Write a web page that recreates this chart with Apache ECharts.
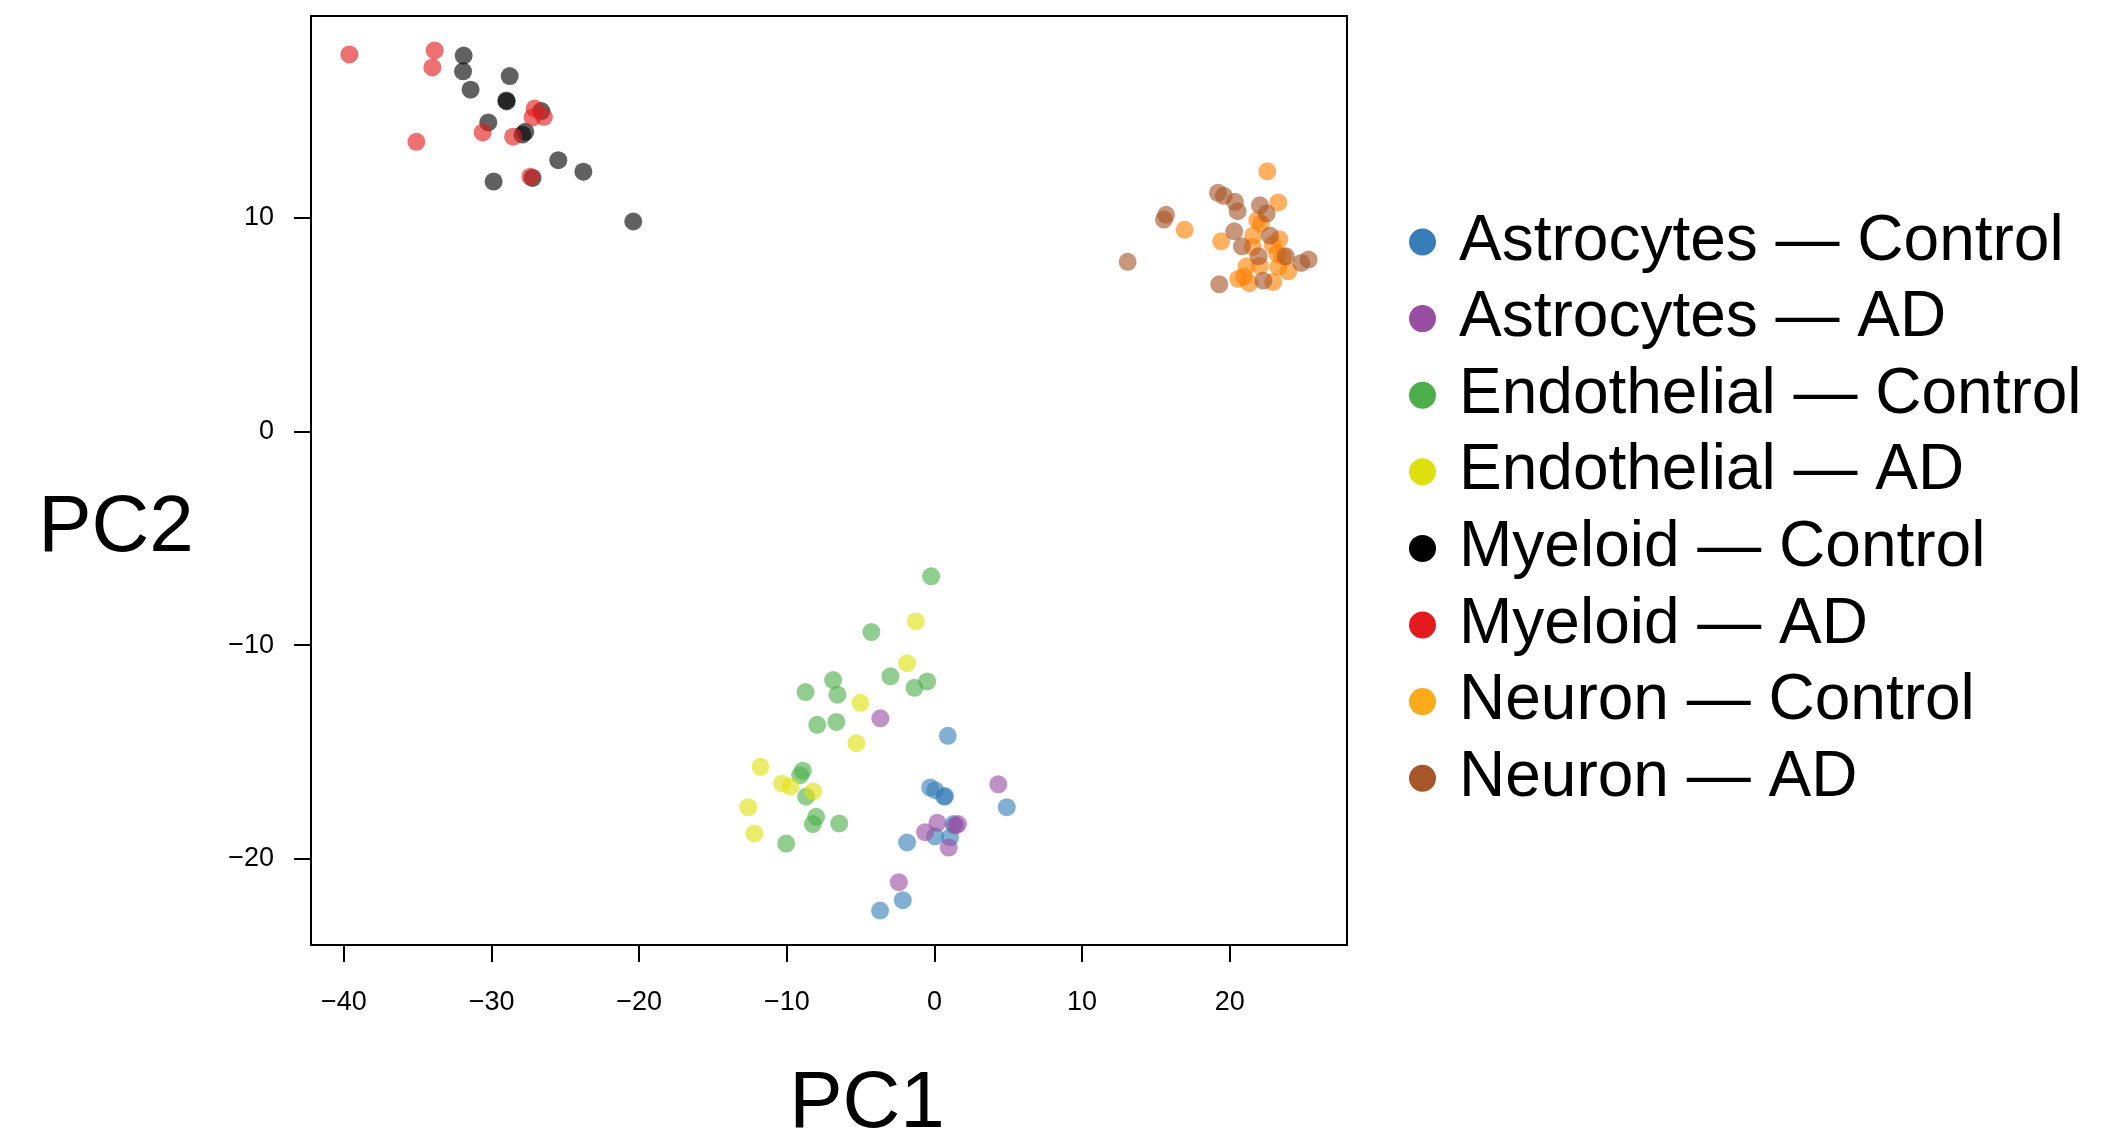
<!DOCTYPE html>
<html>
<head>
<meta charset="utf-8">
<script src="https://cdn.jsdelivr.net/npm/echarts@6/dist/echarts.min.js"></script>
<style>
html,body{margin:0;padding:0;background:#fff;}
#chart{width:2122px;height:1134px;}
</style>
</head>
<body>
<div id="chart"></div>
<script>
// ---- data (PC1, PC2) ----
const astroControl = [[0.91,-14.25],[-0.29,-16.67],[0.05,-16.79],[0.66,-17.10],[0.72,-17.07],[4.90,-17.59],[1.29,-18.38],[0.05,-18.95],[1.06,-19.00],[-1.85,-19.24],[-2.14,-21.94],[-3.68,-22.43]];
const astroAD = [[-3.66,-13.43],[4.33,-16.52],[0.20,-18.32],[-0.63,-18.76],[1.60,-18.38],[1.42,-18.45],[0.97,-19.48],[-2.41,-21.10]];
const endoControl = [[-0.22,-6.78],[-4.27,-9.39],[-2.98,-11.46],[-1.35,-12.00],[-0.49,-11.70],[-6.86,-11.64],[-6.57,-12.32],[-8.73,-12.20],[-7.94,-13.73],[-6.64,-13.60],[-8.91,-15.88],[-9.09,-16.09],[-8.69,-17.10],[-8.01,-18.04],[-8.23,-18.38],[-6.45,-18.35],[-10.04,-19.29]];
const endoAD = [[-1.26,-8.89],[-1.85,-10.85],[-5.01,-12.70],[-5.28,-14.59],[-11.78,-15.70],[-10.33,-16.48],[-9.75,-16.63],[-8.21,-16.85],[-12.61,-17.59],[-12.19,-18.82]];
const myeloidControl = [[-31.89,17.60],[-31.93,16.86],[-31.42,16.00],[-28.77,16.64],[-29.00,15.50],[-28.97,15.45],[-30.22,14.47],[-26.63,15.00],[-27.71,14.03],[-27.91,13.90],[-25.48,12.70],[-23.78,12.16],[-29.86,11.70],[-27.22,11.87],[-20.40,9.83]];
const myeloidAD = [[-39.63,17.65],[-33.85,17.84],[-34.01,17.04],[-35.09,13.56],[-30.60,14.00],[-28.54,13.80],[-27.08,15.12],[-27.22,14.70],[-26.45,14.73],[-27.37,11.93]];
const neuronControl = [[22.55,12.18],[23.29,10.72],[16.95,9.44],[19.43,8.90],[21.87,9.89],[22.12,9.73],[21.60,9.17],[21.56,8.64],[23.36,9.00],[22.91,8.75],[23.22,8.33],[23.61,8.20],[21.15,7.73],[22.05,7.76],[23.29,7.70],[23.97,7.50],[20.58,7.14],[20.97,7.26],[21.33,6.95],[22.95,7.00]];
const neuronAD = [[19.21,11.17],[19.61,11.03],[20.36,10.75],[20.54,10.31],[22.05,10.59],[22.51,10.20],[15.69,10.14],[15.55,9.92],[20.31,9.37],[20.83,8.67],[22.73,9.17],[21.96,8.20],[23.81,8.20],[24.85,7.89],[25.35,8.05],[13.09,7.94],[19.30,6.89],[22.28,7.06]];

const groupNames = ['Astrocytes — Control','Astrocytes — AD','Endothelial — Control','Endothelial — AD','Myeloid — Control','Myeloid — AD','Neuron — Control','Neuron — AD'];
const groupData = [astroControl, astroAD, endoControl, endoAD, myeloidControl, myeloidAD, neuronControl, neuronAD];
const pointColors = ['#377EB8','#984EA3','#4DAF4A','#E0E010','#000000','#E41A1C','#FF7F00','#A65628'];
const legendColors = ['#377EB8','#984EA3','#4DAF4A','#E0E010','#000000','#E41A1C','#FBAA1C','#A65628'];

const xTicks = [-40,-30,-20,-10,0,10,20];
const yTicks = [-20,-10,0,10];
const xLabel = 'PC1';
const yLabel = 'PC2';

const FONT = '"Liberation Sans", Helvetica, Arial, sans-serif';
const fmt = v => String(v).replace('-', '\u2212');

const chart = echarts.init(document.getElementById('chart'), null, {renderer:'canvas'});
chart.setOption({
  animation: false,
  backgroundColor: '#fff',
  grid: {left: 311, top: 16, width: 1036, height: 929, show: true, borderColor: '#000', borderWidth: 2, backgroundColor: 'transparent'},
  xAxis: {
    type: 'value', min: -42.23, max: 27.95,
    axisLine: {show: false, onZero: false},
    splitLine: {show: false},
    axisTick: {show: true, customValues: xTicks, length: 17, lineStyle: {color: '#000', width: 2}},
    axisLabel: {customValues: xTicks, formatter: fmt, fontSize: 27, color: '#000', fontFamily: FONT, margin: 44}
  },
  yAxis: {
    type: 'value', min: -24.04, max: 19.45,
    axisLine: {show: false, onZero: false},
    splitLine: {show: false},
    axisTick: {show: true, customValues: yTicks, length: 17, lineStyle: {color: '#000', width: 2}},
    axisLabel: {customValues: yTicks, formatter: fmt, fontSize: 27, color: '#000', fontFamily: FONT, margin: 37}
  },
  legend: {
    orient: 'vertical', left: 1409, top: 210, padding: 0,
    icon: 'circle', itemWidth: 27, itemHeight: 27, itemGap: 12.6,
    itemStyle: {opacity: 1},
    textStyle: {fontSize: 64, lineHeight: 64, color: '#000', fontFamily: FONT, padding: [0,0,0,18]},
    data: groupNames.map((n, i) => ({name: n, itemStyle: {color: legendColors[i], opacity: 1}}))
  },
  graphic: [
    {type: 'text', style: {text: xLabel, x: 867, y: 1105, textAlign: 'center', textVerticalAlign: 'middle', fontSize: 80, fontFamily: FONT, fill: '#000'}},
    {type: 'text', style: {text: yLabel, x: 116, y: 529, textAlign: 'center', textVerticalAlign: 'middle', fontSize: 80, fontFamily: FONT, fill: '#000'}}
  ],
  series: groupNames.map((n, i) => ({
    name: n, type: 'scatter', data: groupData[i], symbol: 'circle', symbolSize: 18,
    itemStyle: {color: pointColors[i], opacity: 0.62},
    emphasis: {disabled: true}
  }))
});
</script>
</body>
</html>
